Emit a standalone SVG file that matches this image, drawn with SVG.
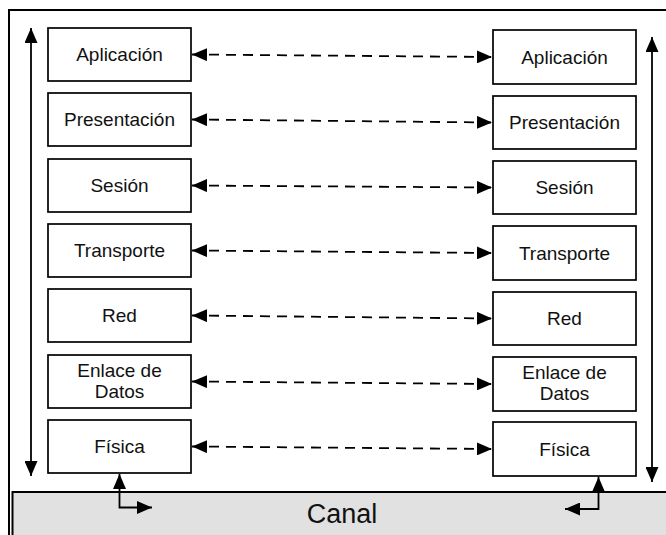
<svg xmlns="http://www.w3.org/2000/svg" width="666" height="535" viewBox="0 0 666 535">
<style>
.box{fill:#fff;stroke:#000;stroke-width:1.7}
.t{font-family:"Liberation Sans",Arial,sans-serif;font-size:19px;fill:#111;text-anchor:middle}
.c{stroke:#000;stroke-width:1.8;fill:none}
.d{stroke:#000;stroke-width:1.8;fill:none;stroke-dasharray:10 7}
</style>
<defs>
<marker id="ah" viewBox="0 0 15 13" refX="15" refY="6.5" markerWidth="15" markerHeight="13" markerUnits="userSpaceOnUse" orient="auto-start-reverse">
<path d="M0,0 L15,6.5 L0,13 Z" fill="#000"/>
</marker>
</defs>
<rect x="0" y="0" width="666" height="535" fill="#fff"/>
<g id="frame">
<rect x="9" y="10" width="700" height="600" fill="#fff" stroke="#000" stroke-width="2"/>
</g>
<g id="canal">
<rect x="12.5" y="492" width="700" height="100" fill="#e1e1e1" stroke="#000" stroke-width="2"/>
<text x="342" y="523" style="font-family:'Liberation Sans',Arial,sans-serif;font-size:27px;fill:#111;text-anchor:middle">Canal</text>
</g>
<g id="left-stack">
<g id="l-aplicacion"><rect class="box" x="48" y="28" width="143" height="53"/><text class="t" x="119.5" y="61">Aplicación</text></g>
<g id="l-presentacion"><rect class="box" x="48" y="93" width="143" height="53"/><text class="t" x="119.5" y="126">Presentación</text></g>
<g id="l-sesion"><rect class="box" x="48" y="159" width="143" height="53"/><text class="t" x="119.5" y="192">Sesión</text></g>
<g id="l-transporte"><rect class="box" x="48" y="224" width="143" height="53"/><text class="t" x="119.5" y="257">Transporte</text></g>
<g id="l-red"><rect class="box" x="48" y="289" width="143" height="53"/><text class="t" x="119.5" y="322">Red</text></g>
<g id="l-enlace"><rect class="box" x="48" y="355" width="143" height="53"/><text class="t" x="119.5" y="377">Enlace de</text><text class="t" x="119.5" y="398">Datos</text></g>
<g id="l-fisica"><rect class="box" x="48" y="420" width="143" height="53"/><text class="t" x="119.5" y="453">Física</text></g>
</g>
<g id="right-stack">
<g id="r-aplicacion"><rect class="box" x="493" y="30" width="143" height="54"/><text class="t" x="564.5" y="64">Aplicación</text></g>
<g id="r-presentacion"><rect class="box" x="493" y="96" width="143" height="53"/><text class="t" x="564.5" y="129">Presentación</text></g>
<g id="r-sesion"><rect class="box" x="493" y="161" width="143" height="53"/><text class="t" x="564.5" y="194">Sesión</text></g>
<g id="r-transporte"><rect class="box" x="493" y="226" width="143" height="54"/><text class="t" x="564.5" y="260">Transporte</text></g>
<g id="r-red"><rect class="box" x="493" y="292" width="143" height="53"/><text class="t" x="564.5" y="325">Red</text></g>
<g id="r-enlace"><rect class="box" x="493" y="357" width="143" height="54"/><text class="t" x="564.5" y="379">Enlace de</text><text class="t" x="564.5" y="400">Datos</text></g>
<g id="r-fisica"><rect class="box" x="493" y="422" width="143" height="54"/><text class="t" x="564.5" y="456">Física</text></g>
</g>
<g id="connectors">
<line class="d" x1="192" y1="54.5" x2="492" y2="57" marker-start="url(#ah)" marker-end="url(#ah)"/>
<line class="d" x1="192" y1="119.5" x2="492" y2="122.5" marker-start="url(#ah)" marker-end="url(#ah)"/>
<line class="d" x1="192" y1="185.5" x2="492" y2="187.5" marker-start="url(#ah)" marker-end="url(#ah)"/>
<line class="d" x1="192" y1="250.5" x2="492" y2="253" marker-start="url(#ah)" marker-end="url(#ah)"/>
<line class="d" x1="192" y1="315.5" x2="492" y2="318.5" marker-start="url(#ah)" marker-end="url(#ah)"/>
<line class="d" x1="192" y1="381.5" x2="492" y2="384" marker-start="url(#ah)" marker-end="url(#ah)"/>
<line class="d" x1="192" y1="446.5" x2="492" y2="449" marker-start="url(#ah)" marker-end="url(#ah)"/>
<line class="c" x1="31" y1="28" x2="31" y2="476" marker-start="url(#ah)" marker-end="url(#ah)"/>
<line class="c" x1="652" y1="37" x2="652" y2="482" marker-start="url(#ah)" marker-end="url(#ah)"/>
<path class="c" d="M119.5,474 V507.5 H152" marker-start="url(#ah)" marker-end="url(#ah)"/>
<path class="c" d="M598.5,477 V509 H565" marker-start="url(#ah)" marker-end="url(#ah)"/>
</g>
</svg>
